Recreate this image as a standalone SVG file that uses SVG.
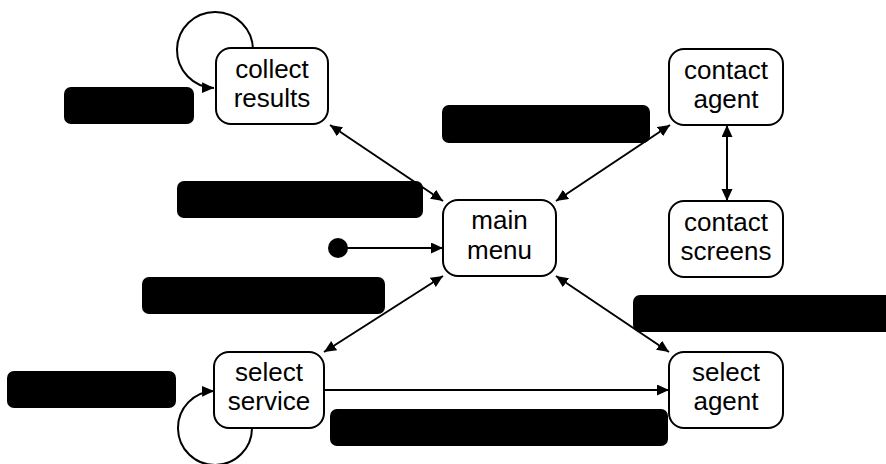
<svg xmlns="http://www.w3.org/2000/svg" width="886" height="464" viewBox="0 0 886 464">
  <style>
    .state rect { fill: #fff; stroke: #000; stroke-width: 2; }
    .state text { font-family: "Liberation Sans", Arial, sans-serif; font-size: 26px; fill: #000; text-anchor: middle; }
    .edge { fill: none; stroke: #000; stroke-width: 2; }
    .mask { fill: #000; }
  </style>
  <defs>
    <marker id="head" markerUnits="userSpaceOnUse" markerWidth="13" markerHeight="12" refX="12" refY="5.5" orient="auto-start-reverse">
      <path d="M0,0 L12,5.5 L0,11 z" fill="#000"/>
    </marker>
  </defs>
  <rect width="886" height="464" fill="#fff"/>

  <!-- connectors -->
  <g id="connectors">
    <!-- self transitions drawn as three-quarter circles -->
    <path class="edge" d="M253,50 A38,38 0 1 0 214,88" marker-end="url(#head)"/>
    <path class="edge" d="M252,428 A37,37 0 1 1 214,391" marker-end="url(#head)"/>
    <line class="edge" x1="330" y1="125" x2="443" y2="201" marker-start="url(#head)" marker-end="url(#head)"/>
    <line class="edge" x1="556" y1="201" x2="670" y2="125" marker-start="url(#head)" marker-end="url(#head)"/>
    <line class="edge" x1="443" y1="276" x2="324" y2="352" marker-start="url(#head)" marker-end="url(#head)"/>
    <line class="edge" x1="556" y1="276" x2="669" y2="352" marker-start="url(#head)" marker-end="url(#head)"/>
    <line class="edge" x1="727" y1="125" x2="727" y2="201" marker-start="url(#head)" marker-end="url(#head)"/>
    <line class="edge" x1="324" y1="390" x2="669" y2="390" marker-end="url(#head)"/>
    <line class="edge" x1="338" y1="248" x2="443" y2="248" marker-end="url(#head)"/>
    <circle cx="338" cy="248" r="10" fill="#000"/>
  </g>

  <!-- redacted labels -->
  <g id="labels">
    <rect class="mask" x="64" y="87" width="130" height="37" rx="7"/>
    <rect class="mask" x="442" y="105" width="208" height="38" rx="7"/>
    <rect class="mask" x="177" y="181" width="246" height="37" rx="7"/>
    <rect class="mask" x="142" y="277" width="243" height="37" rx="7"/>
    <rect class="mask" x="633" y="295" width="260" height="37" rx="7"/>
    <rect class="mask" x="7" y="371" width="169" height="37" rx="7"/>
    <rect class="mask" x="330" y="409" width="338" height="37" rx="7"/>
  </g>

  <g id="collect-results" class="state">
    <rect x="216" y="48" width="112" height="76" rx="15"/>
    <text x="272" y="78">collect</text>
    <text x="272" y="107">results</text>
  </g>
  <g id="main-menu" class="state">
    <rect x="443" y="200" width="113" height="76" rx="15"/>
    <text x="499.5" y="229">main</text>
    <text x="499.5" y="259">menu</text>
  </g>
  <g id="contact-agent" class="state">
    <rect x="669" y="49" width="114" height="76" rx="15"/>
    <text x="726" y="79">contact</text>
    <text x="726" y="108">agent</text>
  </g>
  <g id="contact-screens" class="state">
    <rect x="669" y="201" width="114" height="76" rx="15"/>
    <text x="726" y="231">contact</text>
    <text x="726" y="260">screens</text>
  </g>
  <g id="select-service" class="state">
    <rect x="214" y="352" width="110" height="76" rx="15"/>
    <text x="269" y="381">select</text>
    <text x="269" y="410">service</text>
  </g>
  <g id="select-agent" class="state">
    <rect x="669" y="352" width="114" height="76" rx="15"/>
    <text x="726" y="381">select</text>
    <text x="726" y="410">agent</text>
  </g>
</svg>
